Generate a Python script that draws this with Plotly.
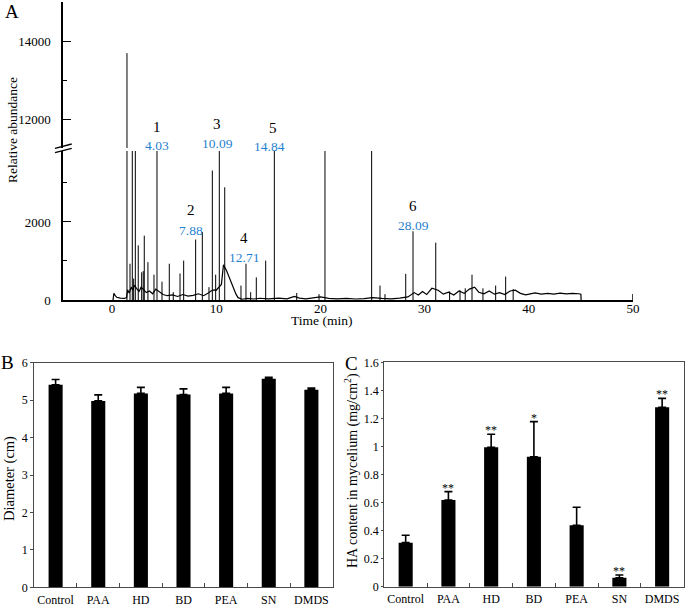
import plotly.graph_objects as go

W, H = 685, 607
FONT = "Liberation Serif"

# ---------------- Panel A: chromatogram data ----------------
peak_times = [1.44, 1.73, 1.95, 2.08, 2.24, 2.52, 2.85, 3.00, 3.10, 3.45, 4.03, 4.32, 4.80,
              5.50, 5.88, 6.53, 6.88, 8.03, 8.67, 9.31, 9.63, 9.95, 10.30, 10.82, 12.38,
              12.86, 13.31, 13.85, 14.75, 15.58, 17.73, 19.87, 20.44, 24.92, 25.72, 26.20,
              28.19, 28.89, 31.07, 32.40, 33.40, 33.90, 34.55, 35.60, 36.82, 37.78, 38.50]
peak_heights = [13690, 930, 6000, 550, 6000, 1400, 710, 740, 1650, 970, 650, 6000, 470,
                930, 200, 680, 1010, 1550, 1740, 330, 3320, 650, 6000, 2890, 370,
                930, 200, 580, 1010, 6000, 180, 150, 6000, 6000, 370, 150,
                670, 1760, 1470, 220, 250, 300, 650, 300, 370, 600, 280]

baseline_t = [0.10, 0.18, 0.30, 0.45, 0.8, 1.2, 1.40, 1.50, 1.65, 1.85, 2.0, 2.15, 2.35, 2.6,
              2.8, 3.05, 3.3, 3.6, 3.9, 4.2, 4.5, 4.9, 5.3, 5.8, 6.3, 6.8, 7.3, 7.8, 8.3,
              8.8, 9.2, 9.5, 9.8, 10.0, 10.5, 10.7, 11.0, 11.3, 11.6, 11.9, 12.1,
              12.3, 12.5, 13.0, 13.6, 14.2, 15.0, 16.0, 16.8, 17.5, 18.0, 18.6, 19.4, 20.0,
              20.8, 21.6, 22.5, 23.4, 24.2, 25.0, 25.9, 26.8, 27.6, 28.4, 29.0, 29.4, 29.8,
              30.2, 30.7, 31.3, 31.8, 32.3, 32.8, 33.3, 33.8, 34.3, 34.8, 35.2, 35.7, 36.2,
              36.7, 37.2, 37.7, 38.2, 38.7, 39.2, 39.7, 40.2, 40.6, 41.2, 41.8, 42.4, 43.0,
              43.6, 44.2, 44.8, 45.0, 45.02]
baseline_v = [0, 170, 120, 70, 50, 40, 60, 260, 180, 330, 250, 380, 300, 220,
              330, 260, 190, 230, 160, 280, 220, 140, 110, 130, 90, 140, 100, 120, 160,
              110, 170, 230, 260, 250, 400, 900, 750, 550, 330, 150, 60,
              30, 20, 40, 25, 45, 30, 50, 30, 90, 50, 30, 50, 80,
              40, 30, 40, 25, 35, 60, 40, 30, 50, 80, 190, 130, 220,
              140, 300, 250, 150, 200, 130, 230, 170, 280, 330, 200, 160, 230,
              150, 190, 140, 230, 250, 170, 130, 150, 180, 150, 170, 150, 175,
              155, 170, 160, 150, 0]

peak_numbers = ["1", "2", "3", "4", "5", "6"]
peak_rt_labels = ["4.03", "7.88", "10.09", "12.71", "14.84", "28.09"]
label_x = [4.29, 7.55, 10.08, 12.64, 15.42, 28.89]
label_rt_x = [4.29, 7.55, 10.12, 12.64, 15.09, 28.92]
label_axis = ["y2", "y", "y2", "y", "y2", "y"]
label_num_y = [11803, 2295, 11864, 1595, 11777, 2397]
label_rt_y = [11315, 1782, 11359, 1097, 11290, 1910]

x_ticks = [0, 10, 20, 30, 40, 50]

# ---------------- Panels B and C: bar data ----------------
categories = ["Control", "PAA", "HD", "BD", "PEA", "SN", "DMDS"]
diameter = [5.41, 4.98, 5.18, 5.15, 5.18, 5.57, 5.28]
diameter_err = [0.14, 0.16, 0.16, 0.15, 0.16, 0.04, 0.04]
ha_content = [0.314, 0.618, 0.994, 0.927, 0.438, 0.064, 1.279]
ha_err = [0.053, 0.060, 0.093, 0.250, 0.128, 0.019, 0.064]
significance = ["", "**", "**", "*", "", "**", "**"]


def fx(p):
    return p / W


def fy(p):
    return 1 - p / H


stem_x, stem_y = [], []
for t, h in zip(peak_times, peak_heights):
    stem_x += [t, t, None]
    stem_y += [0, h, None]

fig = go.Figure()
for ya in ["y", "y2"]:
    fig.add_trace(go.Scatter(x=baseline_t, y=baseline_v, mode="lines", xaxis="x", yaxis=ya,
                             line=dict(color="black", width=1.2), showlegend=False,
                             hoverinfo="skip"))
    fig.add_trace(go.Scatter(x=stem_x, y=stem_y, mode="lines", xaxis="x", yaxis=ya,
                             line=dict(color="black", width=1.0), showlegend=False,
                             hoverinfo="skip"))

bar_common = dict(marker=dict(color="black", line=dict(width=0)), width=0.33, showlegend=False)
fig.add_trace(go.Bar(x=categories, y=diameter, xaxis="x3", yaxis="y3",
                     error_y=dict(type="data", array=diameter_err, symmetric=False,
                                  arrayminus=[0] * len(categories), color="black",
                                  thickness=1.6, width=4),
                     **bar_common))
fig.add_trace(go.Bar(x=categories, y=ha_content, xaxis="x4", yaxis="y4",
                     error_y=dict(type="data", array=ha_err, symmetric=False,
                                  arrayminus=[0] * len(categories), color="black",
                                  thickness=1.6, width=4),
                     **bar_common))

tick_font = dict(family=FONT, size=13, color="black")
small_font = dict(family=FONT, size=12, color="black")

annotations = []
# peak labels
for num, rt, lx, lrx, ax, ny, ry in zip(peak_numbers, peak_rt_labels, label_x, label_rt_x,
                                        label_axis, label_num_y, label_rt_y):
    annotations.append(dict(x=lx, y=ny, xref="x", yref=ax, text=num, showarrow=False,
                            xanchor="center", yanchor="middle",
                            font=dict(family=FONT, size=15, color="black")))
    annotations.append(dict(x=lrx, y=ry, xref="x", yref=ax, text=rt, showarrow=False,
                            xanchor="center", yanchor="middle",
                            font=dict(family=FONT, size=13.5, color="#1f7fd0")))
# significance stars
for c, v, e, s in zip(categories, ha_content, ha_err, significance):
    if s:
        annotations.append(dict(x=c, y=v + e, xref="x4", yref="y4", text=s, showarrow=False,
                                xanchor="center", yanchor="bottom", yshift=-5,
                                font=dict(family=FONT, size=12, color="black")))


def paper_text(x, y, text, size, angle=0):
    return dict(x=fx(x), y=fy(y), xref="paper", yref="paper", text=text, showarrow=False,
                xanchor="center", yanchor="middle", textangle=angle,
                font=dict(family=FONT, size=size, color="black"))


annotations += [
    paper_text(12, 11, "A", 19),
    paper_text(8, 362, "B", 19),
    paper_text(351, 363, "C", 19),
    paper_text(12, 130, "Relative abundance", 13.5, -90),
    paper_text(321, 320, "Time (min)", 13.5),
    paper_text(9, 479, "Diameter (cm)", 14.5, -90),
    paper_text(352, 471, "HA content in mycelium (mg/cm<sup>2</sup>)", 14, -90),
]

shapes = [
    # axis break marks
    dict(type="line", xref="paper", yref="paper", x0=fx(55), y0=fy(148.3), x1=fx(71.7),
         y1=fy(144), line=dict(color="black", width=1.3)),
    dict(type="line", xref="paper", yref="paper", x0=fx(55), y0=fy(152.7), x1=fx(71.7),
         y1=fy(148.4), line=dict(color="black", width=1.3)),
    # end tick at 50 min
    dict(type="line", xref="x", yref="paper", x0=50, x1=50, y0=fy(300), y1=fy(294),
         line=dict(color="black", width=1.5)),
]

frame = "#4a4a4a"
fig.update_layout(
    width=W, height=H, margin=dict(l=0, r=0, t=0, b=0, autoexpand=False),
    paper_bgcolor="white", plot_bgcolor="white",
    font=dict(family=FONT, color="black"),
    bargap=0.5,
    annotations=annotations, shapes=shapes,
    xaxis=dict(domain=[fx(63), fx(633)], range=[-4.7, 50], anchor="y", automargin=False,
               showline=True, linecolor="black", linewidth=1.5, ticks="",
               tickvals=x_ticks, tickfont=tick_font, showgrid=False, zeroline=False,
               ticklabelstandoff=-4),
    yaxis=dict(domain=[fy(300), fy(151)], range=[0, 3820], anchor="x", automargin=False,
               showline=True, linecolor="black", linewidth=1.5, ticks="inside",
               ticklen=8, tickwidth=1.3, tickcolor="black", tickformat="d",
               tickvals=[0, 2000], tickfont=tick_font, showgrid=False, zeroline=False,
               ticklabelstandoff=8,
               minor=dict(tickvals=[1000, 3000], ticks="inside", ticklen=4,
                          tickwidth=1.3, tickcolor="black", showgrid=False)),
    yaxis2=dict(domain=[fy(148), fy(1.5)], range=[11256, 15015], anchor="x", automargin=False,
                showline=True, linecolor="black", linewidth=1.5, ticks="inside",
                ticklen=8, tickwidth=1.3, tickcolor="black", tickformat="d",
                tickvals=[12000, 14000], tickfont=tick_font, showgrid=False, zeroline=False,
                ticklabelstandoff=8,
                minor=dict(tickvals=[13000, 15000], ticks="inside", ticklen=4,
                           tickwidth=1.3, tickcolor="black", showgrid=False)),
    xaxis3=dict(domain=[fx(34.3), fx(332.7)], anchor="y3", type="category", automargin=False,
                showline=True, mirror=True, linecolor=frame, linewidth=1.3, tickangle=0,
                ticks="inside", tickson="boundaries", ticklen=4, tickcolor=frame,
                tickfont=small_font, showgrid=False, ticklabelstandoff=1),
    yaxis3=dict(domain=[fy(587.3), fy(362.7)], anchor="x3", range=[0, 6], dtick=1,
                automargin=False,
                showline=True, mirror=True, linecolor=frame, linewidth=1.3,
                ticks="outside", ticklen=3, tickcolor=frame, tickfont=small_font,
                showgrid=False, zeroline=False),
    xaxis4=dict(domain=[fx(384.3), fx(683.5)], anchor="y4", type="category", automargin=False,
                showline=True, mirror=True, linecolor=frame, linewidth=1.3, tickangle=0,
                ticks="inside", tickson="boundaries", ticklen=4, tickcolor=frame,
                tickfont=small_font, showgrid=False, ticklabelstandoff=1),
    yaxis4=dict(domain=[fy(586.7), fy(362.3)], anchor="x4", range=[0, 1.6], dtick=0.2,
                automargin=False,
                showline=True, mirror=True, linecolor=frame, linewidth=1.3,
                ticks="outside", ticklen=2, tickcolor=frame, tickfont=small_font,
                showgrid=False, zeroline=False),
)

fig.write_html("out.html", config={"displayModeBar": False},
               post_script="document.body.style.margin='0';document.body.style.overflow='hidden';")
